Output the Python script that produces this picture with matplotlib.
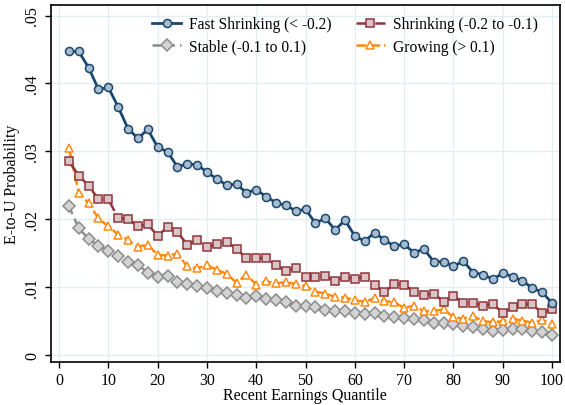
import matplotlib

matplotlib.use("Agg")
import matplotlib.pyplot as plt

plt.rcParams["font.family"] = ["Liberation Serif", "DejaVu Serif"]

quantil = list(range(2, 101, 2))

fast_shrinking = [
    0.0447, 0.0447, 0.0423, 0.0391, 0.0394, 0.0365, 0.0333, 0.0319, 0.0332, 0.0306,
    0.0299, 0.0277, 0.0281, 0.0280, 0.0269, 0.0259, 0.0250, 0.0251, 0.0239, 0.0243,
    0.0233, 0.0224, 0.0220, 0.0212, 0.0214, 0.0194, 0.0201, 0.0184, 0.0198, 0.0175,
    0.0167, 0.0180, 0.0169, 0.0160, 0.0163, 0.0150, 0.0156, 0.0137, 0.0137, 0.0130,
    0.0138, 0.0121, 0.0118, 0.0111, 0.0120, 0.0115, 0.0109, 0.0098, 0.0092, 0.0076,
]
shrinking = [
    0.0285, 0.0264, 0.0249, 0.0229, 0.0229, 0.0201, 0.0200, 0.0189, 0.0192, 0.0175,
    0.0188, 0.0181, 0.0162, 0.0169, 0.0158, 0.0163, 0.0166, 0.0156, 0.0142, 0.0142,
    0.0142, 0.0132, 0.0123, 0.0128, 0.0115, 0.0115, 0.0116, 0.0109, 0.0115, 0.0111,
    0.0115, 0.0103, 0.0092, 0.0104, 0.0103, 0.0093, 0.0088, 0.0090, 0.0078, 0.0087,
    0.0076, 0.0076, 0.0072, 0.0075, 0.0061, 0.0070, 0.0074, 0.0074, 0.0061, 0.0067,
]
stable = [
    0.0219, 0.0186, 0.0171, 0.0160, 0.0153, 0.0146, 0.0137, 0.0132, 0.0121, 0.0115,
    0.0116, 0.0107, 0.0104, 0.0101, 0.0098, 0.0094, 0.0091, 0.0088, 0.0084, 0.0086,
    0.0082, 0.0080, 0.0077, 0.0072, 0.0072, 0.0070, 0.0066, 0.0064, 0.0064, 0.0062,
    0.0060, 0.0062, 0.0057, 0.0055, 0.0054, 0.0052, 0.0051, 0.0046, 0.0047, 0.0045,
    0.0042, 0.0040, 0.0038, 0.0035, 0.0036, 0.0037, 0.0038, 0.0035, 0.0034, 0.0029,
]
growing = [
    0.0304, 0.0239, 0.0223, 0.0201, 0.0189, 0.0177, 0.0169, 0.0159, 0.0162, 0.0147,
    0.0146, 0.0149, 0.0130, 0.0127, 0.0132, 0.0125, 0.0119, 0.0106, 0.0118, 0.0103,
    0.0108, 0.0105, 0.0107, 0.0104, 0.0101, 0.0093, 0.0090, 0.0085, 0.0084, 0.0080,
    0.0078, 0.0083, 0.0079, 0.0077, 0.0069, 0.0072, 0.0064, 0.0064, 0.0067, 0.0055,
    0.0053, 0.0057, 0.0049, 0.0048, 0.0049, 0.0053, 0.0050, 0.0047, 0.0051, 0.0045,
]

x_ticks = list(range(0, 101, 10))
y_ticks = [0, 0.01, 0.02, 0.03, 0.04, 0.05]
y_labels = ["0", ".01", ".02", ".03", ".04", ".05"]

fig = plt.figure(figsize=(5.65, 4.06), dpi=100)
ax = fig.add_axes([0.0897, 0.105, 0.9013, 0.881])

series = [
    (fast_shrinking, "Fast Shrinking (< -0.2)",
     dict(color="#1a476f", linewidth=2.0, linestyle="-", marker="o",
          markerfacecolor="#a9bccd", markeredgecolor="#1a476f", zorder=5)),
    (shrinking, "Shrinking (-0.2 to -0.1)",
     dict(color="#90353b", linewidth=1.8, linestyle=(0, (6, 1.5)), marker="s",
          markerfacecolor="#d9c5c6", markeredgecolor="#90353b", zorder=4)),
    (stable, "Stable (-0.1 to 0.1)",
     dict(color="#8c8c8c", linewidth=1.8, linestyle=(0, (3.5, 2)), marker="D",
          markerfacecolor="#d3d3d3", markeredgecolor="#8c8c8c", zorder=2)),
    (growing, "Growing (> 0.1)",
     dict(color="#ff8a10", linewidth=1.8, linestyle=(0, (4, 1.5)), marker="^",
          markerfacecolor="white", markeredgecolor="#ff8a10", zorder=3)),
]
handles = {}
for valores, rotulo, estilo in series:
    (h,) = ax.plot(quantil, valores, markersize=5.8, markeredgewidth=1.1,
                   label=rotulo, **estilo)
    handles[rotulo] = h

ax.set_xlim(-1.7, 101.6)
ax.set_ylim(-0.00115, 0.0516)
ax.set_xticks(x_ticks)
ax.set_yticks(y_ticks)
ax.set_yticklabels(y_labels, rotation=90, va="center")
ax.tick_params(labelsize=11.5, length=4, width=1)
ax.tick_params(axis="x", pad=3)
ax.grid(True, color="#e3eef0", linewidth=1.0)
ax.set_axisbelow(True)
for s in ax.spines.values():
    s.set_linewidth(1.2)
    s.set_color("black")

ax.set_xlabel("Recent Earnings Quantile", fontsize=11.5, labelpad=-1)
ax.set_ylabel("E-to-U Probability", fontsize=11.5, labelpad=3)

ordem = ["Fast Shrinking (< -0.2)", "Stable (-0.1 to 0.1)",
         "Shrinking (-0.2 to -0.1)", "Growing (> 0.1)"]
ax.legend([handles[k] for k in ordem], ordem, ncol=2, loc="upper left",
          bbox_to_anchor=(0.187, 0.985), frameon=False, fontsize=11.2,
          handlelength=1.85, handletextpad=0.5, columnspacing=1.6,
          labelspacing=0.42, borderaxespad=0.0)

fig.savefig("out.png", dpi=100, facecolor="white")
